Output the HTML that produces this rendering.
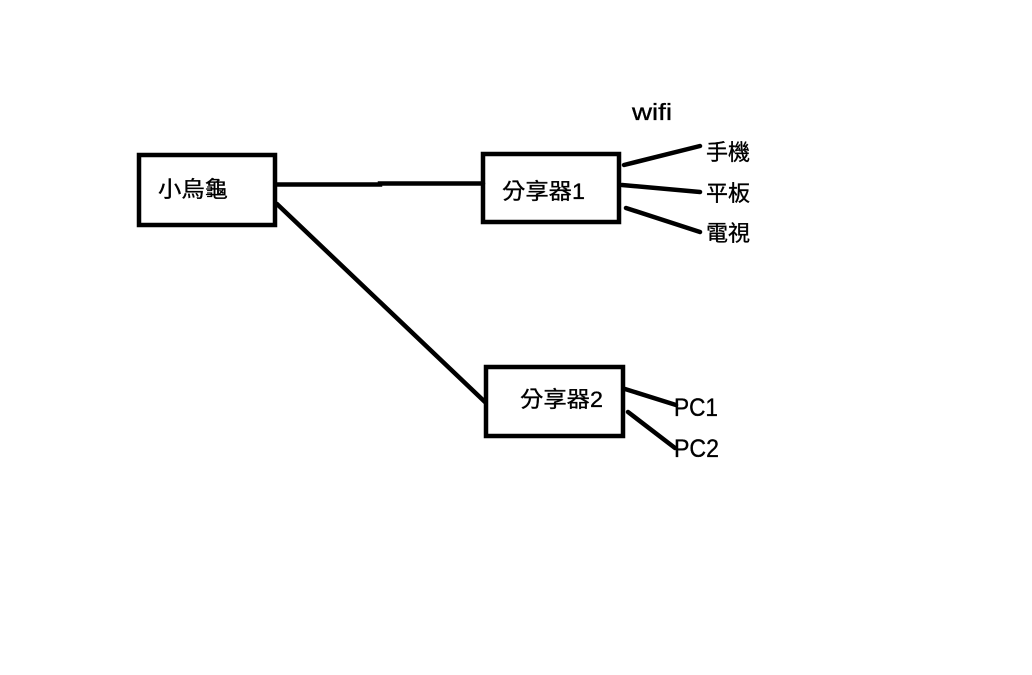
<!DOCTYPE html>
<html><head><meta charset="utf-8"><style>
html,body{margin:0;padding:0;background:#fff;}
svg{display:block;}
text{font-family:"Liberation Sans","Noto Sans CJK TC",sans-serif;fill:#000;stroke:#000;stroke-width:0.35;}
</style></head><body>
<svg width="1032" height="675" viewBox="0 0 1032 675" xmlns="http://www.w3.org/2000/svg">
<rect x="0" y="0" width="1032" height="675" fill="#fff"/>
<g fill="none" stroke="#000" stroke-width="4.5">
<rect x="139" y="155" width="136" height="70"/>
<rect x="483" y="154" width="136" height="68"/>
<rect x="486" y="367" width="137" height="69"/>
</g>
<g stroke="#000" stroke-width="4.5" stroke-linecap="round" fill="none">
<polyline points="277,184.5 380,184.5 380,183.5 483,183.5"/>
<line x1="277" y1="204" x2="485" y2="402"/>
<line x1="624" y1="165" x2="700" y2="146"/>
<line x1="622" y1="185" x2="700" y2="192"/>
<line x1="626" y1="208" x2="700" y2="232"/>
<line x1="625" y1="389" x2="676" y2="405"/>
<line x1="628" y1="412" x2="675" y2="448"/>
</g>
<g font-size="22">
<text x="158" y="197" textLength="70" lengthAdjust="spacingAndGlyphs">小烏龜</text>
<text x="502" y="199" textLength="83" lengthAdjust="spacingAndGlyphs">分享器1</text>
<text x="520" y="407" textLength="83" lengthAdjust="spacingAndGlyphs">分享器2</text>
<text x="706" y="160" textLength="44" lengthAdjust="spacingAndGlyphs">手機</text>
<text x="706" y="201" textLength="44" lengthAdjust="spacingAndGlyphs">平板</text>
<text x="706" y="241" textLength="44" lengthAdjust="spacingAndGlyphs">電視</text>
</g>
<text x="632" y="120" font-size="23" textLength="40" lengthAdjust="spacingAndGlyphs">wifi</text>
<text x="674" y="416" font-size="25" textLength="44" lengthAdjust="spacingAndGlyphs">PC1</text>
<text x="674" y="457" font-size="25" textLength="45" lengthAdjust="spacingAndGlyphs">PC2</text>
</svg>
</body></html>
